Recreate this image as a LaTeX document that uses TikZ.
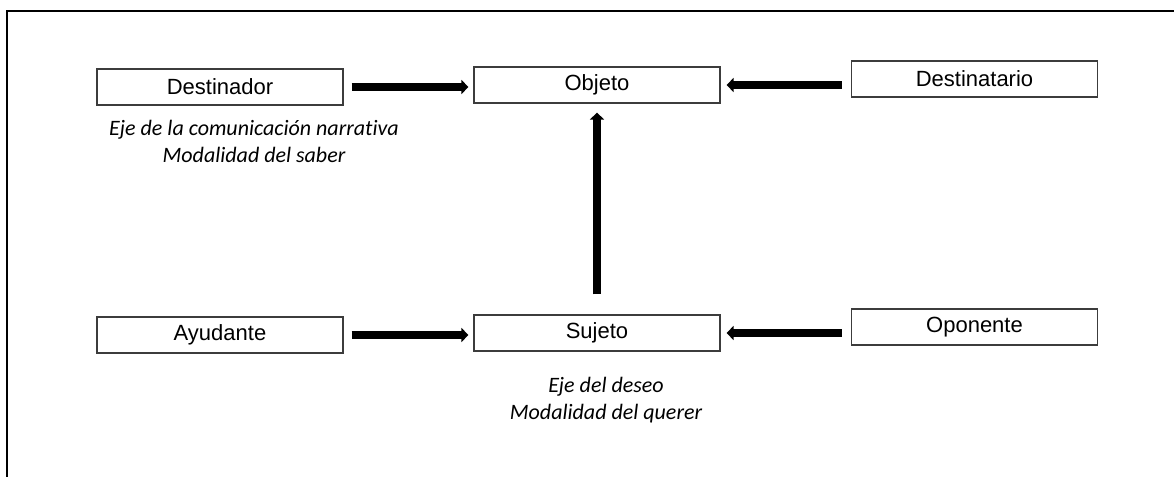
\documentclass[tikz,border=0pt]{standalone}
\usepackage{fontspec}
\setmainfont{Liberation Sans}
\newfontfamily\notafont[Ligatures=NoCommon]{Carlito}
\usetikzlibrary{positioning, arrows.meta}
\definecolor{bordecolor}{RGB}{60,60,60}

\begin{document}
\begin{tikzpicture}[x=0.5pt, y=-0.5pt,
    actante/.style={draw=bordecolor, line width=0.6pt, minimum width=123pt,
                    minimum height=18pt, inner sep=0pt, font=\fontsize{11}{12}\selectfont},
    flecha/.style={line width=3.7pt, -{Triangle[length=3.5pt, width=7pt]}},
    nota/.style={align=center, font=\notafont\itshape\fontsize{11}{13.5}\selectfont}]
    \useasboundingbox (0,0) rectangle (1174,477);

    % Marco
    \draw[line width=1pt] (7,477) -- (7,11) -- (1174,11);

    % Eje superior
    \node[actante] (destinador) at (220,87) {Destinador};
    \node[actante] (objeto) at (597,85) {Objeto};
    \node[actante] (destinatario) at (974.5,79) {Destinatario};

    % Eje inferior
    \node[actante] (ayudante) at (220,335) {Ayudante};
    \node[actante] (sujeto) at (597,333) {Sujeto};
    \node[actante] (oponente) at (974.5,327) {Oponente};

    % Flechas
    \draw[flecha, shorten <=4pt, shorten >=2.5pt] (destinador.east) -- (destinador.east -| objeto.west);
    \draw[flecha, shorten <=4.5pt, shorten >=3pt] (objeto.east -| destinatario.west) -- (objeto.east);
    \draw[flecha, shorten <=4pt, shorten >=2.5pt] (ayudante.east) -- (ayudante.east -| sujeto.west);
    \draw[flecha, shorten <=4.5pt, shorten >=3pt] (sujeto.east -| oponente.west) -- (sujeto.east);
    \draw[flecha, shorten <=10pt, shorten >=4.5pt] (sujeto.north) -- (objeto.south);

    % Ejes
    \node[nota] (ejesaber) at (254,141) {Eje de la comunicación narrativa\\Modalidad del saber};
    \node[nota] (ejedeseo) at (606,400) {Eje del deseo\\Modalidad del querer};
\end{tikzpicture}
\end{document}
